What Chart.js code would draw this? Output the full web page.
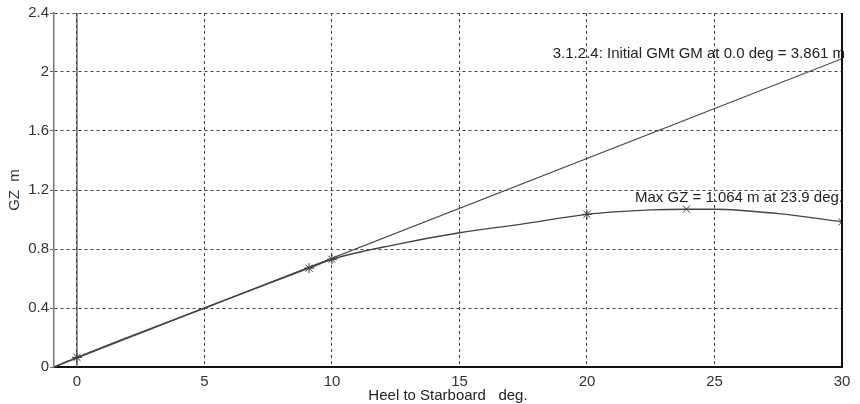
<!DOCTYPE html>
<html><head><meta charset="utf-8">
<script src="https://cdn.jsdelivr.net/npm/chart.js@4/dist/chart.umd.min.js"></script>
<style>html,body{margin:0;padding:0;background:#fff}#wrap{width:860px;height:404px}</style>
</head><body><div id="wrap"><canvas id="c" width="860" height="404"></canvas></div>
<script>
const heelDeg = [-0.9, 0, 2.5, 5, 7.5, 9.1, 10, 12.5, 15, 17.5, 20, 22.5, 23.9, 25, 27.5, 30];
const gzValues = [0, 0.065, 0.235, 0.40, 0.565, 0.67, 0.73, 0.83, 0.91, 0.97, 1.035, 1.065, 1.07, 1.07, 1.04, 0.985];
const markerDeg = [0, 9.1, 10, 20, 23.9, 30];
const markerGz = [0.065, 0.67, 0.73, 1.035, 1.07, 0.985];
const gmLineDeg = [-0.9, 30];
const gmLineGz = [0, 2.09];
const zeroLineDeg = [0, 0];
const zeroLineGz = [0, 2.4];
const xTicks = [0, 5, 10, 15, 20, 25, 30];
const yTicks = [0, 0.4, 0.8, 1.2, 1.6, 2, 2.4];
const gmLabel = '3.1.2.4: Initial GMt GM at 0.0 deg = 3.861 m';
const maxLabel = 'Max GZ = 1.064 m at 23.9 deg.';
const xTitle = 'Heel to Starboard   deg.';
const yTitle = 'GZ  m';

const pts = (xs, ys) => xs.map((x, i) => ({x, y: ys[i]}));
const fam = 'Liberation Sans, Arial, sans-serif';
const font = {family: fam, size: 15};

const annot = {
  id: 'annot',
  afterDatasetsDraw(chart) {
    const {ctx, chartArea, scales} = chart;
    ctx.save();
    ctx.font = '15px ' + fam;
    ctx.fillStyle = '#222';
    ctx.textAlign = 'right';
    ctx.textBaseline = 'middle';
    ctx.fillText(gmLabel, chartArea.right + 3, scales.y.getPixelForValue(2.125));
    ctx.fillText(maxLabel, chartArea.right + 1, scales.y.getPixelForValue(1.145));
    ctx.strokeStyle = '#111';
    ctx.lineWidth = 2;
    ctx.beginPath();
    ctx.moveTo(chartArea.right, chartArea.top);
    ctx.lineTo(chartArea.right, chartArea.bottom);
    ctx.stroke();
    ctx.restore();
  }
};

new Chart(document.getElementById('c'), {
  type: 'scatter',
  data: {
    datasets: [
      {data: pts(zeroLineDeg, zeroLineGz), showLine: true, borderColor: '#444', borderWidth: 1.2, pointRadius: 0, tension: 0},
      {data: pts(gmLineDeg, gmLineGz), showLine: true, borderColor: '#444', borderWidth: 1.2, pointRadius: 0, tension: 0},
      {data: pts(heelDeg, gzValues), showLine: true, borderColor: '#444', borderWidth: 1.4, pointRadius: 0, cubicInterpolationMode: 'monotone'},
      {data: pts(markerDeg, markerGz), showLine: false, borderColor: '#333', borderWidth: 1, pointRadius: 5,
       pointStyle: ['star', 'star', 'star', 'star', 'crossRot', 'crossRot'], pointBackgroundColor: '#333'}
    ]
  },
  options: {
    responsive: false,
    animation: false,
    events: [],
    layout: {padding: {top: 13, right: 18, left: 0, bottom: 0}},
    plugins: {legend: {display: false}, tooltip: {enabled: false}},
    scales: {
      x: {
        type: 'linear', min: -0.9, max: 30,
        afterBuildTicks: s => { s.ticks = xTicks.map(v => ({value: v})); },
        afterFit: s => { s.height = 37; },
        ticks: {font, color: '#333', padding: 6, includeBounds: false, maxRotation: 0, callback: v => String(v)},
        grid: {color: '#444', lineWidth: 1, drawTicks: false, tickLength: 0},
        border: {color: '#111', width: 2, dash: [3, 3]},
        title: {display: true, text: xTitle, font, color: '#222', padding: {top: 0, bottom: -1}}
      },
      y: {
        type: 'linear', min: 0, max: 2.4,
        afterBuildTicks: s => { s.ticks = yTicks.map(v => ({value: v})); },
        afterFit: s => { s.width = 54; },
        ticks: {font, color: '#333', padding: 1, callback: v => String(v)},
        grid: {color: '#444', lineWidth: 1, drawTicks: true, tickLength: 4, tickColor: '#666'},
        border: {color: '#777', width: 1.5, dash: [3, 3]},
        title: {display: true, text: yTitle, font, color: '#2a3a4a', padding: {top: 6, bottom: 0}}
      }
    }
  },
  plugins: [annot]
});
</script>
</body></html>
